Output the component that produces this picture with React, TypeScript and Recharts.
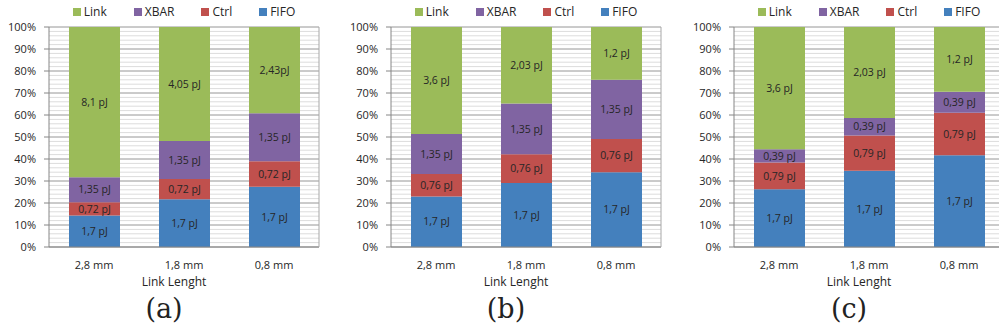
import React from 'react';
import { BarChart, Bar, XAxis, YAxis, CartesianGrid, Legend, LabelList } from 'recharts';

const categories = ['2,8 mm', '1,8 mm', '0,8 mm'];

// panel (a)
const fifoA = [1.7, 1.7, 1.7];
const ctrlA = [0.72, 0.72, 0.72];
const xbarA = [1.35, 1.35, 1.35];
const linkA = [8.1, 4.05, 2.43];
const linkLabelsA = ['8,1 pJ', '4,05 pJ', '2,43pJ'];

// panel (b)
const fifoB = [1.7, 1.7, 1.7];
const ctrlB = [0.76, 0.76, 0.76];
const xbarB = [1.35, 1.35, 1.35];
const linkB = [3.6, 2.03, 1.2];

// panel (c)
const fifoC = [1.7, 1.7, 1.7];
const ctrlC = [0.79, 0.79, 0.79];
const xbarC = [0.39, 0.39, 0.39];
const linkC = [3.6, 2.03, 1.2];

const yTicks = [0, 0.1, 0.2, 0.3, 0.4, 0.5, 0.6, 0.7, 0.8, 0.9, 1];
const minorTicks = Array.from({ length: 51 }, (_, i) => i / 50);

const COLORS: Record<string, string> = {
  FIFO: '#4480BD',
  Ctrl: '#C0504D',
  XBAR: '#8064A2',
  Link: '#9BBB59',
};
const stackOrder = ['FIFO', 'Ctrl', 'XBAR', 'Link'];
const legendOrder = ['Link', 'XBAR', 'Ctrl', 'FIFO'];

const FONT = '"Open Sans", "Noto Sans", sans-serif';

const fmt = (v: number) => `${String(v).replace('.', ',')} pJ`;

function buildData(fifo: number[], ctrl: number[], xbar: number[], link: number[], linkLabels?: string[]) {
  return categories.map((cat, i) => ({
    cat,
    FIFO: fifo[i],
    Ctrl: ctrl[i],
    XBAR: xbar[i],
    Link: link[i],
    FIFOLabel: fmt(fifo[i]),
    CtrlLabel: fmt(ctrl[i]),
    XBARLabel: fmt(xbar[i]),
    LinkLabel: linkLabels ? linkLabels[i] : fmt(link[i]),
  }));
}

const panels = [
  { caption: '(a)', left: 0, data: buildData(fifoA, ctrlA, xbarA, linkA, linkLabelsA) },
  { caption: '(b)', left: 342, data: buildData(fifoB, ctrlB, xbarB, linkB) },
  { caption: '(c)', left: 685, data: buildData(fifoC, ctrlC, xbarC, linkC) },
];

const LegendContent = () => (
  <div style={{ display: 'flex', justifyContent: 'center', fontFamily: FONT, fontSize: 12, color: '#262626' }}>
    {legendOrder.map((name, i) => (
      <div
        key={name}
        style={{ display: 'flex', alignItems: 'center', marginLeft: i === 0 ? 0 : 27 }}
      >
        <span style={{ display: 'inline-block', width: 8, height: 8, background: COLORS[name], marginRight: 3 }} />
        <span>{name}</span>
      </div>
    ))}
  </div>
);

const Panel = ({ data, left, caption }: { data: any[]; left: number; caption: string }) => (
  <div style={{ position: 'absolute', left, top: 0, width: 330, height: 333 }}>
    <BarChart
      width={330}
      height={292}
      data={data}
      stackOffset="expand"
      barSize={51}
      margin={{ top: 27, right: 0, bottom: 0, left: 0 }}
    >
      <CartesianGrid vertical={false} horizontalValues={minorTicks} stroke="#dcdcdc" />
      <CartesianGrid vertical={false} horizontalValues={yTicks} stroke="#a8a8a8" />
      <XAxis
        dataKey="cat"
        tickLine={false}
        axisLine={{ stroke: '#868686' }}
        height={45}
        tickMargin={8}
        tick={{ fontFamily: FONT, fontSize: 11, fill: '#262626' }}
        label={{
          value: 'Link Lenght',
          position: 'insideBottom',
          offset: 6,
          dx: -10,
          style: { fontFamily: FONT, fontSize: 12, fill: '#262626' },
        }}
      />
      <YAxis
        domain={[0, 1]}
        ticks={yTicks}
        interval={0}
        tickFormatter={(v: number) => `${Math.round(v * 100)}%`}
        width={49}
        tickSize={5}
        tickMargin={8}
        axisLine={{ stroke: '#868686' }}
        tickLine={{ stroke: '#868686' }}
        tick={{ fontFamily: FONT, fontSize: 11, fill: '#262626' }}
      />
      <YAxis
        yAxisId="right"
        orientation="right"
        domain={[0, 1]}
        width={11}
        tick={false}
        tickLine={false}
        axisLine={{ stroke: '#a8a8a8' }}
      />
      <Legend
        verticalAlign="middle"
        content={<LegendContent />}
        wrapperStyle={{ top: 3, left: 49, width: 270 }}
      />
      {stackOrder.map((key) => (
        <Bar key={key} dataKey={key} stackId="s" fill={COLORS[key]} isAnimationActive={false}>
          <LabelList
            dataKey={`${key}Label`}
            position="center"
            fill="#262626"
            style={{ fontFamily: FONT, fontSize: 10.5 }}
          />
        </Bar>
      ))}
    </BarChart>
    <div
      style={{
        position: 'absolute',
        left: 124,
        top: 295,
        width: 80,
        textAlign: 'center',
        fontFamily: '"DejaVu Serif", serif',
        fontSize: 27,
        lineHeight: 1,
        color: '#222',
      }}
    >
      {caption}
    </div>
  </div>
);

export default function App() {
  return (
    <div
      style={{
        position: 'absolute',
        left: 0,
        top: 0,
        width: 999,
        height: 333,
        overflow: 'hidden',
        background: '#fff',
      }}
    >
      {panels.map((p) => (
        <Panel key={p.caption} data={p.data} left={p.left} caption={p.caption} />
      ))}
    </div>
  );
}
